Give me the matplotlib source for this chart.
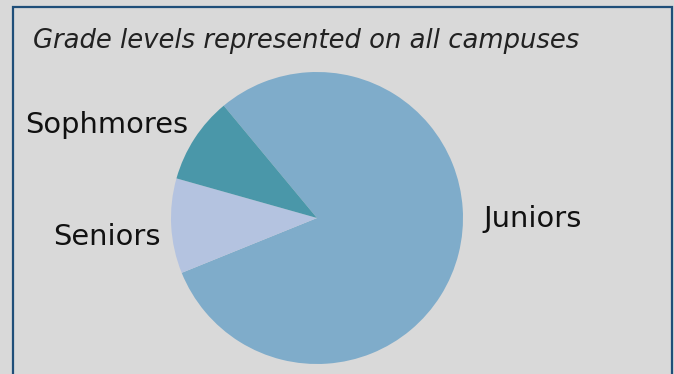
import matplotlib
matplotlib.use("Agg")
from matplotlib import pyplot as plt
from matplotlib.patches import Rectangle

# Share of students per grade level (percent)
grade_labels: list[str] = ["Juniors", "Seniors", "Sophmores"]
grade_shares: list[float] = [79.9, 10.5, 9.6]
slice_colors: list[str] = ["#7facca", "#b4c3e0", "#4a97a9"]

TITLE = "Grade levels represented on all campuses"
BG = "#d9d9d9"
BORDER = "#1f4e79"

W, H = 674, 374
fig = plt.figure(figsize=(W / 100, H / 100), dpi=100, facecolor=BG)

# NOTE: frame of the chart area, bottom edge runs off the image
fig.add_artist(Rectangle((13 / W, -0.05), (672 - 13) / W, (H - 7) / H + 0.05,
                         transform=fig.transFigure, fill=False,
                         edgecolor=BORDER, linewidth=1.6))

fig.text(33 / W, 1 - 48 / H, TITLE, fontsize=18.6, style="italic",
         color="#222222", va="baseline", ha="left", family="DejaVu Sans")

# pie centre at (317, 218) px, radius 146 px
cx, cy, r = 317, 218, 146
ax = fig.add_axes([(cx - r) / W, (H - cy - r) / H, 2 * r / W, 2 * r / H])
ax.set_facecolor(BG)
ax.pie(grade_shares, colors=slice_colors, startangle=129.7, counterclock=False,
       radius=1.0, wedgeprops=dict(linewidth=0))
ax.set_xlim(-1, 1)
ax.set_ylim(-1, 1)
ax.axis("off")

# label centre x and baseline y in pixels
label_pos = {
    "Juniors": (533, 227),
    "Seniors": (107, 245),
    "Sophmores": (107, 133),
}
for name in grade_labels:
    px, py = label_pos[name]
    ax.text((px - cx) / r, (cy - py) / r, name, fontsize=20.8, color="#111111",
            ha="center", va="baseline", clip_on=False, family="DejaVu Sans")

fig.savefig("out.png", dpi=100, facecolor=BG)
